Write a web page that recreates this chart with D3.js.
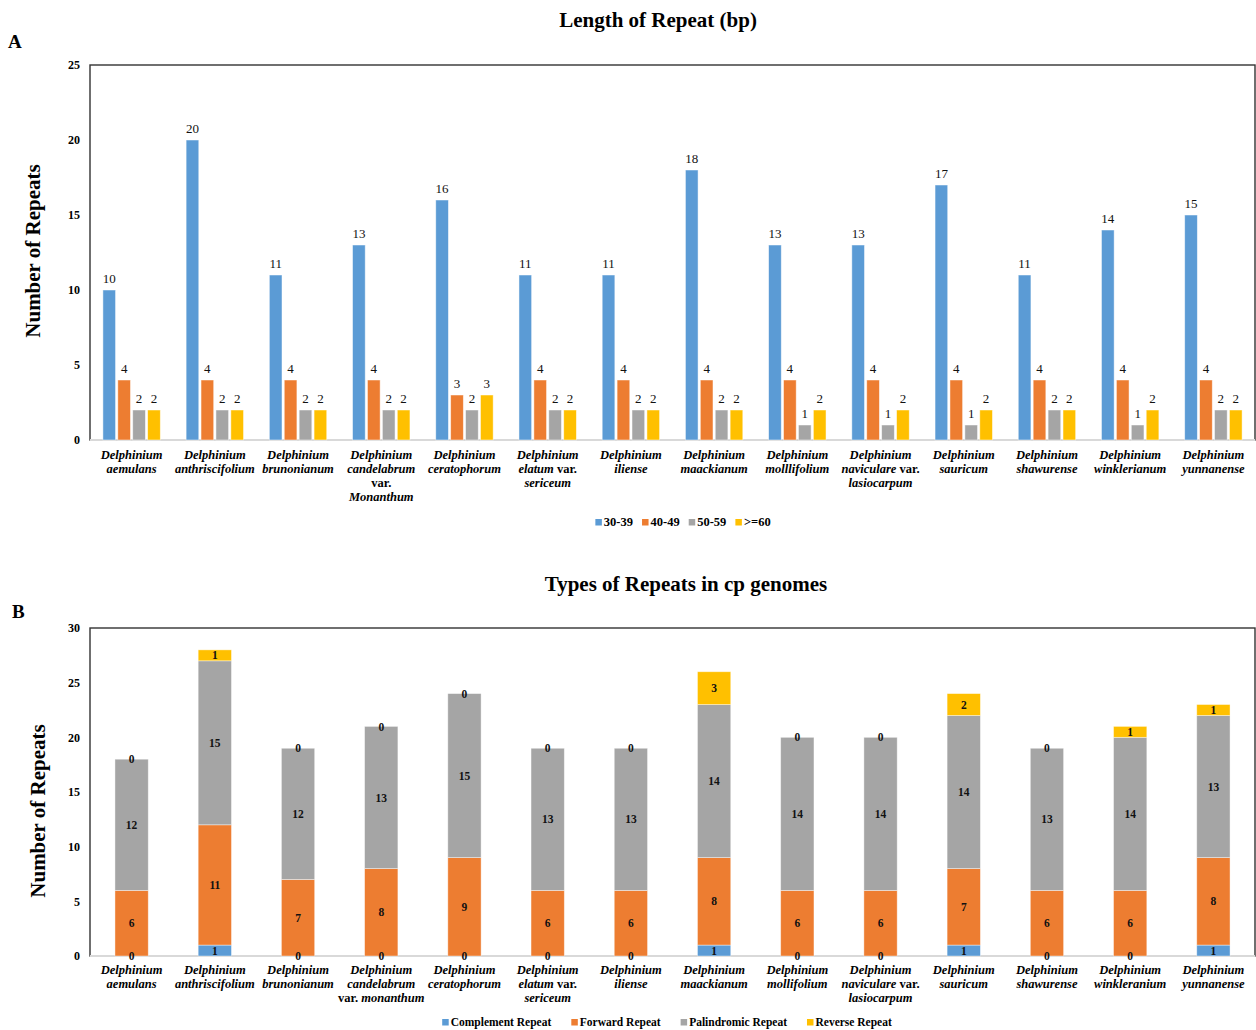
<!DOCTYPE html>
<html>
<head>
<meta charset="utf-8">
<script src="https://cdn.jsdelivr.net/npm/d3@7"></script>
<style>
  html, body { margin: 0; padding: 0; background: #fff; }
  svg { display: block; font-family: "Liberation Serif", "Times New Roman", serif; }
</style>
</head>
<body>
<svg id="chart" width="1256" height="1030"></svg>
<script>
// ---- Species (category labels, one line per array entry) ----
const speciesA = [
  ["Delphinium", "aemulans"],
  ["Delphinium", "anthriscifolium"],
  ["Delphinium", "brunonianum"],
  ["Delphinium", "candelabrum", "var.", "Monanthum"],
  ["Delphinium", "ceratophorum"],
  ["Delphinium", "elatum var.", "sericeum"],
  ["Delphinium", "iliense"],
  ["Delphinium", "maackianum"],
  ["Delphinium", "molllifolium"],
  ["Delphinium", "naviculare var.", "lasiocarpum"],
  ["Delphinium", "sauricum"],
  ["Delphinium", "shawurense"],
  ["Delphinium", "winklerianum"],
  ["Delphinium", "yunnanense"]
];
const speciesB = [
  ["Delphinium", "aemulans"],
  ["Delphinium", "anthriscifolium"],
  ["Delphinium", "brunonianum"],
  ["Delphinium", "candelabrum", "var.  monanthum"],
  ["Delphinium", "ceratophorum"],
  ["Delphinium", "elatum var.", "sericeum"],
  ["Delphinium", "iliense"],
  ["Delphinium", "maackianum"],
  ["Delphinium", "mollifolium"],
  ["Delphinium", "naviculare var.", "lasiocarpum"],
  ["Delphinium", "sauricum"],
  ["Delphinium", "shawurense"],
  ["Delphinium", "winkleranium"],
  ["Delphinium", "yunnanense"]
];

// ---- Panel A: repeat length classes ----
const lengthClasses = ["30-39", "40-49", "50-59", ">=60"];
const len30_39 = [10, 20, 11, 13, 16, 11, 11, 18, 13, 13, 17, 11, 14, 15];
const len40_49 = [4, 4, 4, 4, 3, 4, 4, 4, 4, 4, 4, 4, 4, 4];
const len50_59 = [2, 2, 2, 2, 2, 2, 2, 2, 1, 1, 1, 2, 1, 2];
const len60up  = [2, 2, 2, 2, 3, 2, 2, 2, 2, 2, 2, 2, 2, 2];
const ticksA = [0, 5, 10, 15, 20, 25];

// ---- Panel B: repeat types ----
const repeatTypes = ["Complement Repeat", "Forward Repeat", "Palindromic Repeat", "Reverse Repeat"];
const complementRep  = [0, 1, 0, 0, 0, 0, 0, 1, 0, 0, 1, 0, 0, 1];
const forwardRep     = [6, 11, 7, 8, 9, 6, 6, 8, 6, 6, 7, 6, 6, 8];
const palindromicRep = [12, 15, 12, 13, 15, 13, 13, 14, 14, 14, 14, 13, 14, 13];
const reverseRep     = [0, 1, 0, 0, 0, 0, 0, 3, 0, 0, 2, 0, 1, 1];
const ticksB = [0, 5, 10, 15, 20, 25, 30];

const palette = ["#5B9BD5", "#ED7D31", "#A5A5A5", "#FFC000"];

const svg = d3.select("#chart");
const plotLeft = 90, plotRight = 1255;

// Shared helpers ---------------------------------------------------------
function drawFrame(top, bottom) {
  svg.append("rect")
    .attr("x", plotLeft).attr("y", top)
    .attr("width", plotRight - plotLeft).attr("height", bottom - top)
    .attr("fill", "none").attr("stroke", "#333").attr("stroke-width", 1.4);
  svg.append("line")
    .attr("x1", plotLeft).attr("x2", plotRight)
    .attr("y1", bottom).attr("y2", bottom)
    .attr("stroke", "#d9d9d9").attr("stroke-width", 2);
}

function drawYAxis(y, ticks) {
  const axis = d3.axisLeft(y).tickValues(ticks).tickSize(0).tickPadding(10);
  const g = svg.append("g").attr("transform", `translate(${plotLeft},0)`).call(axis);
  g.select(".domain").remove();
  g.selectAll("text")
    .attr("font-family", "Liberation Serif, serif")
    .attr("font-size", 12).attr("font-weight", "bold").attr("fill", "#000");
}

function drawCategoryLabels(x, lines, firstBaseline) {
  const g = svg.append("g");
  lines.forEach((ls, i) => {
    const cx = x(i) + x.bandwidth() / 2;
    const t = g.append("text")
      .attr("text-anchor", "middle")
      .attr("font-size", 12.5).attr("font-weight", "bold").attr("font-style", "italic")
      .attr("fill", "#000");
    ls.forEach((line, j) => {
      const ts = t.append("tspan").attr("x", cx).attr("y", firstBaseline + j * 14);
      // "var." is set upright, the epithets in italics
      const parts = line.split(/(var\.)/).filter(p => p.length);
      parts.forEach(p => {
        ts.append("tspan")
          .attr("font-style", p === "var." ? "normal" : "italic")
          .text(p);
      });
    });
  });
}

function drawLegend(labels, cx, cy, gap, fontSize) {
  const g = svg.append("g");
  const items = [];
  let xPos = 0;
  labels.forEach((lab, i) => {
    const it = g.append("g");
    it.append("rect").attr("x", 0).attr("y", -6).attr("width", 6.5).attr("height", 6.5)
      .attr("fill", palette[i]);
    const tx = it.append("text").attr("x", 8.5).attr("y", 0.5)
      .attr("font-size", fontSize).attr("font-weight", "bold").attr("fill", "#000").text(lab);
    const w = 8.5 + tx.node().getComputedTextLength();
    items.push({ it, x: xPos });
    xPos += w + gap;
  });
  const total = xPos - gap;
  items.forEach(d => d.it.attr("transform", `translate(${cx - total / 2 + d.x},${cy})`));
}

function drawYTitle(x, cy) {
  svg.append("text")
    .attr("transform", `translate(${x},${cy}) rotate(-90)`)
    .attr("text-anchor", "middle")
    .attr("font-size", 21).attr("font-weight", "bold").attr("fill", "#000")
    .text("Number of Repeats");
}

// ---- Panel A: grouped bars ----------------------------------------------
{
  const top = 65, bottom = 440;
  const idx = d3.range(speciesA.length);
  const series = [len30_39, len40_49, len50_59, len60up];

  const x0 = d3.scaleBand().domain(idx).range([plotLeft, plotRight])
    .paddingInner(0.31).paddingOuter(0.155);
  const x1 = d3.scaleBand().domain(d3.range(lengthClasses.length))
    .range([0, x0.bandwidth()]).paddingInner(0.15);
  const y = d3.scaleLinear().domain([0, 25]).range([bottom, top]);

  svg.append("text").attr("x", 658).attr("y", 27).attr("text-anchor", "middle")
    .attr("font-size", 21).attr("font-weight", "bold").text("Length of Repeat (bp)");
  svg.append("text").attr("x", 8).attr("y", 48)
    .attr("font-size", 19).attr("font-weight", "bold").text("A");

  drawFrame(top, bottom);
  drawYAxis(y, ticksA);

  const groups = svg.append("g").selectAll("g").data(idx).join("g")
    .attr("transform", i => `translate(${x0(i)},0)`);
  groups.selectAll("rect")
    .data(i => series.map((s, k) => ({ k, v: s[i] })))
    .join("rect")
    .attr("x", d => x1(d.k)).attr("width", x1.bandwidth())
    .attr("y", d => y(d.v)).attr("height", d => y(0) - y(d.v))
    .attr("fill", d => palette[d.k])
    .attr("stroke", "#fff").attr("stroke-opacity", 0.6).attr("stroke-width", 0.8);
  groups.selectAll("text")
    .data(i => series.map((s, k) => ({ k, v: s[i] })))
    .join("text")
    .attr("x", d => x1(d.k) + x1.bandwidth() / 2)
    .attr("y", d => y(d.v) - 7)
    .attr("text-anchor", "middle")
    .attr("font-size", 13).attr("fill", "#111")
    .text(d => d.v);

  drawCategoryLabels(x0, speciesA, 459);
  drawYTitle(40, 251);
  drawLegend(lengthClasses, 683, 525, 9, 12.5);
}

// ---- Panel B: stacked bars ----------------------------------------------
{
  const top = 628, bottom = 956;
  const idx = d3.range(speciesB.length);
  const rows = idx.map(i => ({
    i,
    c: complementRep[i], f: forwardRep[i], p: palindromicRep[i], r: reverseRep[i]
  }));
  const stack = d3.stack().keys(["c", "f", "p", "r"])(rows);

  const x = d3.scaleBand().domain(idx).range([plotLeft, plotRight])
    .paddingInner(0.6).paddingOuter(0.3);
  const y = d3.scaleLinear().domain([0, 30]).range([bottom, top]);

  svg.append("text").attr("x", 686).attr("y", 591).attr("text-anchor", "middle")
    .attr("font-size", 21).attr("font-weight", "bold").text("Types of Repeats in cp genomes");
  svg.append("text").attr("x", 12).attr("y", 618)
    .attr("font-size", 19).attr("font-weight", "bold").text("B");

  drawFrame(top, bottom);
  drawYAxis(y, ticksB);

  const layers = svg.append("g").selectAll("g").data(stack).join("g")
    .attr("fill", (d, k) => palette[k]);
  layers.selectAll("rect").data(d => d).join("rect")
    .attr("x", d => x(d.data.i)).attr("width", x.bandwidth())
    .attr("y", d => y(d[1])).attr("height", d => y(d[0]) - y(d[1]))
    .attr("stroke", "#fff").attr("stroke-opacity", 0.5).attr("stroke-width", 0.8);

  const lbl = svg.append("g");
  stack.forEach(layer => {
    layer.forEach(d => {
      lbl.append("text")
        .attr("x", x(d.data.i) + x.bandwidth() / 2)
        .attr("y", (y(d[0]) + y(d[1])) / 2)
        .attr("dy", "0.36em")
        .attr("text-anchor", "middle")
        .attr("font-size", 11.5).attr("font-weight", "bold").attr("fill", "#111")
        .text(d[1] - d[0]);
    });
  });

  drawCategoryLabels(x, speciesB, 974);
  drawYTitle(45, 811);
  drawLegend(repeatTypes, 667, 1025, 20, 11.5);
}
</script>
</body>
</html>
